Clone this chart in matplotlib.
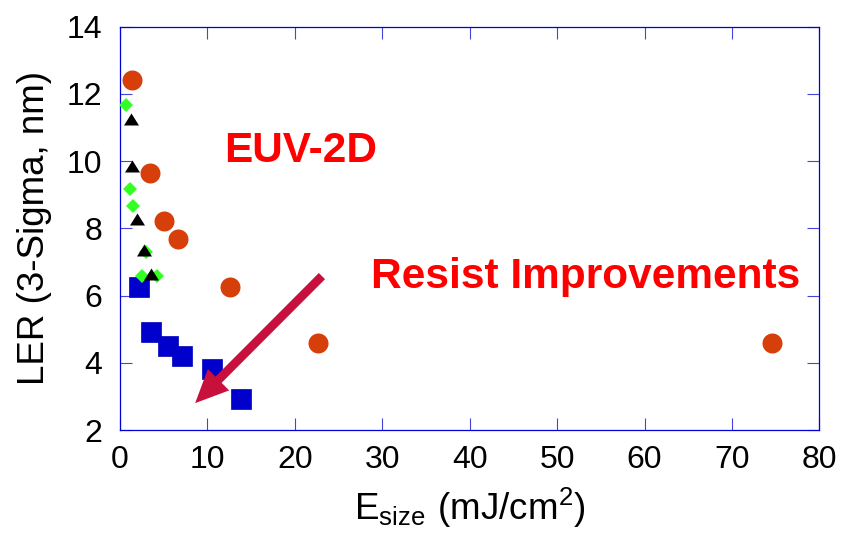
import matplotlib
matplotlib.use("Agg")
import matplotlib.pyplot as plt

plt.rcParams['font.family'] = ['Liberation Sans', 'DejaVu Sans']
plt.rcParams['mathtext.fontset'] = 'custom'
plt.rcParams['mathtext.rm'] = 'Liberation Sans'

# Data
circle_x = [1.35, 3.45, 5.0, 6.65, 12.6, 22.6, 74.6]
circle_y = [12.42, 9.66, 8.22, 7.68, 6.27, 4.59, 4.60]

square_x = [2.2, 3.6, 5.5, 7.1, 10.5, 13.85]
square_y = [6.26, 4.93, 4.50, 4.19, 3.82, 2.93]

diamond_x = [0.68, 1.1, 1.48, 3.0, 2.52, 4.18]
diamond_y = [11.67, 9.17, 8.67, 7.29, 6.58, 6.58]

triangle_x = [1.23, 1.41, 1.97, 2.77, 3.57]
triangle_y = [11.26, 9.86, 8.28, 7.37, 6.63]

arrow_tail = (23.1, 6.58)
arrow_tip = (8.6, 2.8)

x_ticks = [0, 10, 20, 30, 40, 50, 60, 70, 80]
y_ticks = [2, 4, 6, 8, 10, 12, 14]

fig = plt.figure(figsize=(8.43, 5.42), dpi=100)
ax = fig.add_axes([0.1423, 0.2066, 0.9721 - 0.1423, 0.9507 - 0.2066])

frame_blue = '#0000DD'
tick_blue = '#4444DD'
ax.plot(circle_x, circle_y, linestyle='none', marker='o', markersize=14.4,
        color='#D63E0A', markeredgewidth=0, zorder=3)
ax.plot(square_x, square_y, linestyle='none', marker='s', markersize=14.4,
        color='#0000CC', markeredgecolor='#0000BB', markeredgewidth=0.5, zorder=3)
ax.plot(diamond_x, diamond_y, linestyle='none', marker='D', markersize=7.6,
        color='#33FF22', markeredgewidth=0, zorder=4)
tri = [(0, 0.8), (-1, -0.8), (1, -0.8), (0, 0.8)]
ax.plot(triangle_x, triangle_y, linestyle='none', marker=tri, markersize=10.8,
        color='black', markeredgewidth=0, zorder=5)

ax.annotate('', xy=arrow_tip, xytext=arrow_tail,
            arrowprops=dict(arrowstyle='simple,head_length=1.7,head_width=1.55,tail_width=0.45',
                            color='#C8103C', lw=0, shrinkA=0, shrinkB=0,
                            mutation_scale=14),
            zorder=6)

ax.text(11.9, 10.3, 'EUV-2D', color='#FF0000', fontsize=30.5, fontweight='bold',
        ha='left', va='center')
ax.text(28.7, 6.56, 'Resist Improvements', color='#FF0000', fontsize=30.5,
        fontweight='bold', ha='left', va='center')

ax.set_xlim(0, 80)
ax.set_ylim(2, 14)
ax.set_xticks(x_ticks)
ax.set_yticks(y_ticks)
ax.tick_params(direction='in', length=8.6, width=0.8, color=tick_blue,
               top=True, right=True, labelsize=23, labelcolor='black')
ax.tick_params(axis='x', pad=11)
ax.tick_params(axis='y', pad=13)
for s in ax.spines.values():
    s.set_color(frame_blue)
    s.set_linewidth(0.9)

ax.set_xlabel(r'$\mathregular{E_{size}\ (mJ/cm^2)}$', fontsize=26.5, labelpad=7.5)
ax.set_ylabel('LER (3-Sigma, nm)', fontsize=26.5, labelpad=10)

fig.savefig('out.png', dpi=100)
